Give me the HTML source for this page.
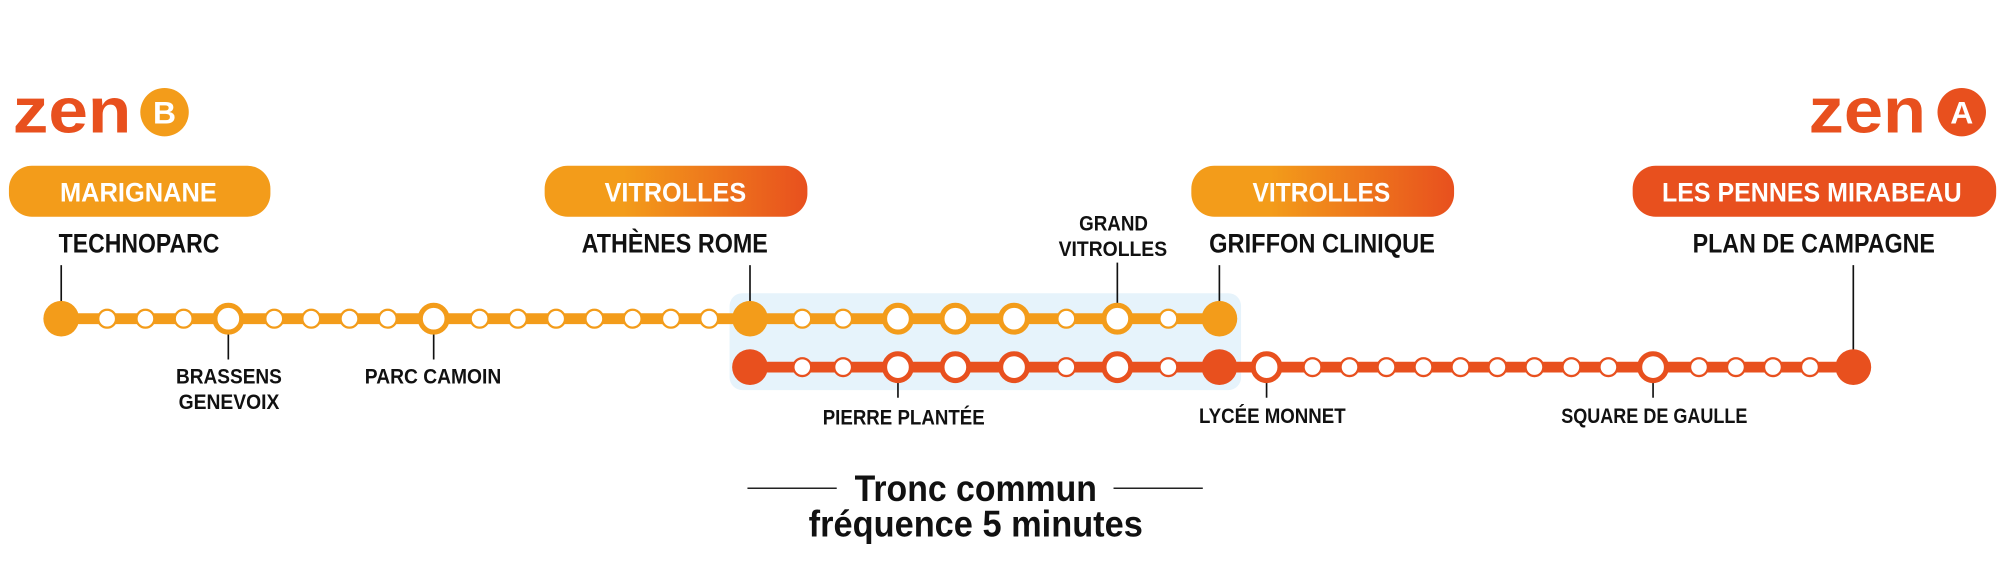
<!DOCTYPE html>
<html><head><meta charset="utf-8"><style>
html,body{margin:0;padding:0;background:#fff;width:2000px;height:566px;overflow:hidden}
svg{display:block}
text{font-family:"Liberation Sans Narrow","Liberation Sans",sans-serif;font-weight:bold}
.s{fill:#fff;stroke:#f39c1a;stroke-width:1.8}
.sr{fill:#fff;stroke:#e8501e;stroke-width:1.8}
.b{fill:#fff;stroke:#f39c1a;stroke-width:4}
.br{fill:#fff;stroke:#e8501e;stroke-width:4}
.t{stroke:#111;stroke-width:1.3}
.w{fill:#fff;font-size:21px}
.k{fill:#111;font-size:21px}
.m{fill:#111;font-size:17px}
</style></head><body>
<svg width="2000" height="566" viewBox="0 0 1568 444" preserveAspectRatio="none" xmlns="http://www.w3.org/2000/svg">
<defs>
<linearGradient id="g" x1="0" x2="1" y1="0" y2="0"><stop offset="0.3" stop-color="#f39c1a"/><stop offset="1" stop-color="#e8501e"/></linearGradient>
</defs>
<text x="10" y="104" textLength="93" lengthAdjust="spacingAndGlyphs" style="font-family:'Liberation Sans',sans-serif;font-size:50px;fill:#e8501e">zen</text>
<circle cx="129" cy="88" r="19" fill="#f39c1a"/>
<text x="129" y="97" text-anchor="middle" style="font-family:'Liberation Sans',sans-serif;font-size:25px;fill:#fff">B</text>
<text x="1418" y="104" textLength="92" lengthAdjust="spacingAndGlyphs" style="font-family:'Liberation Sans',sans-serif;font-size:50px;fill:#e8501e">zen</text>
<circle cx="1538" cy="88" r="19" fill="#e8501e"/>
<text x="1538" y="97" text-anchor="middle" style="font-family:'Liberation Sans',sans-serif;font-size:25px;fill:#fff">A</text>
<rect x="7" y="130" width="205" height="40" rx="18" fill="#f39c1a"/>
<text class="w" x="47" y="158" textLength="123" lengthAdjust="spacingAndGlyphs">MARIGNANE</text>
<rect x="427" y="130" width="206" height="40" rx="18" fill="url(#g)"/>
<text class="w" x="474" y="158" textLength="111" lengthAdjust="spacingAndGlyphs">VITROLLES</text>
<rect x="934" y="130" width="206" height="40" rx="18" fill="url(#g)"/>
<text class="w" x="982" y="158" textLength="108" lengthAdjust="spacingAndGlyphs">VITROLLES</text>
<rect x="1280" y="130" width="285" height="40" rx="18" fill="#e8501e"/>
<text class="w" x="1303" y="158" textLength="235" lengthAdjust="spacingAndGlyphs">LES PENNES MIRABEAU</text>
<text class="k" x="46" y="198" textLength="126" lengthAdjust="spacingAndGlyphs">TECHNOPARC</text>
<text class="k" x="456" y="198" textLength="146" lengthAdjust="spacingAndGlyphs">ATHÈNES ROME</text>
<text class="k" x="948" y="198" textLength="177" lengthAdjust="spacingAndGlyphs">GRIFFON CLINIQUE</text>
<text class="k" x="1327" y="198" textLength="190" lengthAdjust="spacingAndGlyphs">PLAN DE CAMPAGNE</text>
<text class="m" x="846" y="181" textLength="54" lengthAdjust="spacingAndGlyphs">GRAND</text>
<text class="m" x="830" y="201" textLength="85" lengthAdjust="spacingAndGlyphs">VITROLLES</text>
<rect x="572" y="230" width="401" height="76" rx="10" fill="#e6f3fb"/>
<line class="t" x1="48" y1="208" x2="48" y2="240"/>
<line class="t" x1="588" y1="208" x2="588" y2="240"/>
<line class="t" x1="876" y1="206" x2="876" y2="240"/>
<line class="t" x1="956" y1="208" x2="956" y2="240"/>
<line class="t" x1="1453" y1="208" x2="1453" y2="278"/>
<line class="t" x1="179" y1="260" x2="179" y2="282"/>
<line class="t" x1="340" y1="260" x2="340" y2="282"/>
<line class="t" x1="704" y1="298" x2="704" y2="312"/>
<line class="t" x1="993" y1="298" x2="993" y2="312"/>
<line class="t" x1="1296" y1="298" x2="1296" y2="312"/>
<line x1="48" y1="250" x2="956" y2="250" stroke="#f39c1a" stroke-width="8.5"/>
<line x1="588" y1="288" x2="1453" y2="288" stroke="#e8501e" stroke-width="8.5"/>
<circle cx="48" cy="250" r="14" fill="#f39c1a"/>
<circle class="s" cx="84" cy="250" r="7"/><circle class="s" cx="114" cy="250" r="7"/><circle class="s" cx="144" cy="250" r="7"/>
<circle class="b" cx="179" cy="250" r="10.5"/>
<circle class="s" cx="215" cy="250" r="7"/><circle class="s" cx="244" cy="250" r="7"/><circle class="s" cx="274" cy="250" r="7"/><circle class="s" cx="304" cy="250" r="7"/>
<circle class="b" cx="340" cy="250" r="10.5"/>
<circle class="s" cx="376" cy="250" r="7"/><circle class="s" cx="406" cy="250" r="7"/><circle class="s" cx="436" cy="250" r="7"/><circle class="s" cx="466" cy="250" r="7"/><circle class="s" cx="496" cy="250" r="7"/><circle class="s" cx="526" cy="250" r="7"/><circle class="s" cx="556" cy="250" r="7"/>
<circle cx="588" cy="250" r="14" fill="#f39c1a"/>
<circle class="s" cx="629" cy="250" r="7"/><circle class="s" cx="661" cy="250" r="7"/>
<circle class="b" cx="704" cy="250" r="10.5"/><circle class="b" cx="749" cy="250" r="10.5"/><circle class="b" cx="795" cy="250" r="10.5"/>
<circle class="s" cx="836" cy="250" r="7"/>
<circle class="b" cx="876" cy="250" r="10.5"/>
<circle class="s" cx="916" cy="250" r="7"/>
<circle cx="956" cy="250" r="14" fill="#f39c1a"/>
<circle cx="588" cy="288" r="14" fill="#e8501e"/>
<circle class="sr" cx="629" cy="288" r="7"/><circle class="sr" cx="661" cy="288" r="7"/>
<circle class="br" cx="704" cy="288" r="10.5"/><circle class="br" cx="749" cy="288" r="10.5"/><circle class="br" cx="795" cy="288" r="10.5"/>
<circle class="sr" cx="836" cy="288" r="7"/>
<circle class="br" cx="876" cy="288" r="10.5"/>
<circle class="sr" cx="916" cy="288" r="7"/>
<circle cx="956" cy="288" r="14" fill="#e8501e"/>
<circle class="br" cx="993" cy="288" r="10.5"/>
<circle class="sr" cx="1029" cy="288" r="7"/><circle class="sr" cx="1058" cy="288" r="7"/><circle class="sr" cx="1087" cy="288" r="7"/><circle class="sr" cx="1116" cy="288" r="7"/><circle class="sr" cx="1145" cy="288" r="7"/><circle class="sr" cx="1174" cy="288" r="7"/><circle class="sr" cx="1203" cy="288" r="7"/><circle class="sr" cx="1232" cy="288" r="7"/><circle class="sr" cx="1261" cy="288" r="7"/>
<circle class="br" cx="1296" cy="288" r="10.5"/>
<circle class="sr" cx="1332" cy="288" r="7"/><circle class="sr" cx="1361" cy="288" r="7"/><circle class="sr" cx="1390" cy="288" r="7"/><circle class="sr" cx="1419" cy="288" r="7"/>
<circle cx="1453" cy="288" r="14" fill="#e8501e"/>
<text class="m" x="138" y="301" textLength="83" lengthAdjust="spacingAndGlyphs">BRASSENS</text>
<text class="m" x="140" y="321" textLength="79" lengthAdjust="spacingAndGlyphs">GENEVOIX</text>
<text class="m" x="286" y="301" textLength="107" lengthAdjust="spacingAndGlyphs">PARC CAMOIN</text>
<text class="m" x="645" y="333" textLength="127" lengthAdjust="spacingAndGlyphs">PIERRE PLANTÉE</text>
<text class="m" x="940" y="332" textLength="115" lengthAdjust="spacingAndGlyphs">LYCÉE MONNET</text>
<text class="m" x="1224" y="332" textLength="146" lengthAdjust="spacingAndGlyphs">SQUARE DE GAULLE</text>
<line x1="586" y1="383" x2="656" y2="383" stroke="#222" stroke-width="1.2"/>
<line x1="873" y1="383" x2="943" y2="383" stroke="#222" stroke-width="1.2"/>
<text x="670" y="393" textLength="190" lengthAdjust="spacingAndGlyphs" style="font-size:29px;fill:#111">Tronc commun</text>
<text x="634" y="421" textLength="262" lengthAdjust="spacingAndGlyphs" style="font-size:29px;fill:#111">fréquence 5 minutes</text>
</svg>
</body></html>
